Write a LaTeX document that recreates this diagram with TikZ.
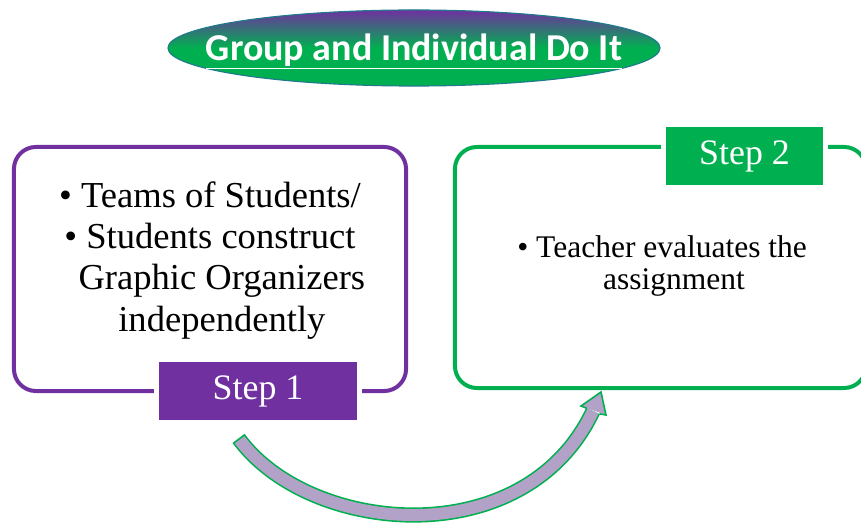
\documentclass[tikz,border=0pt]{standalone}
\usepackage{fontspec}
\setmainfont{Liberation Serif}
\newfontfamily\titlefont{Carlito}
\usetikzlibrary{shapes.geometric, positioning}
\definecolor{stepone}{RGB}{112,48,160}
\definecolor{steptwo}{RGB}{0,176,80}
\definecolor{titleedge}{RGB}{31,122,140}
\definecolor{arrowfill}{RGB}{179,162,199}
\tikzset{
  frame/.style={rectangle, rounded corners=0.55cm, line width=0.1cm, fill=white},
  steplabel/.style={rectangle, rounded corners=1pt, draw=white, line width=0.12cm,
                    text=white, minimum height=1.57cm, font=\fontsize{25.5}{28}\selectfont},
  bodytext/.style={align=center, inner sep=0pt},
  heading/.style={ellipse, draw=titleedge, thick, top color=stepone, bottom color=steptwo,
                  middle color=steptwo, minimum width=12.3cm, minimum height=1.9cm, inner sep=0pt},
  headtext/.style={text=white, inner sep=0pt, anchor=base, font=\titlefont\bfseries\fontsize{27}{30}\selectfont},
  arrowband/.style={draw=steptwo, line width=0.04cm, double=arrowfill, double distance=0.3cm},
}

\begin{document}
\begin{tikzpicture}[x=0.025cm, y=-0.025cm]
  \useasboundingbox (0,0) rectangle (861,524);
  \clip (0,0) rectangle (861,524);

  \node[heading] (title) at (414,48) {};
  \node[headtext] (titletext) at ([yshift=-0.3cm]title.center) {\underline{Group and Individual Do It}};

  \node[frame, draw=stepone, minimum width=9.8cm, minimum height=6.1cm] (box1) at (210,269) {};
  \node[frame, draw=steptwo, minimum width=10.275cm, minimum height=6.025cm] (box2) at (660.5,267.5) {};

  \node[bodytext, font=\fontsize{26}{29.5}\selectfont, below=0.9cm of box1.north] (text1)
    {\textbullet{} Teams of Students/\\ \textbullet{} Students construct\\
     \hspace*{0.65em}Graphic Organizers\\ \hspace*{0.65em}independently};
  \node[bodytext, font=\fontsize{22.4}{23}\selectfont, below=2.25cm of box2.north, xshift=0.04cm] (text2)
    {\textbullet{} Teacher evaluates the\\ \hspace*{0.76em}assignment};

  \node[steplabel, fill=stepone, minimum width=5.07cm] (label1) at (258,391) {Step 1};
  \node[steplabel, fill=steptwo, minimum width=4.05cm] (label2) at (744.5,156) {Step 2};

  \coordinate (tail) at (239,439);
  \coordinate (tip) at (593,411);
  \draw[arrowband] (tail) .. controls (310,535) and (525,555) .. (tip);
  \draw[steptwo, line width=0.04cm] (233,443.5) -- (245,434.5);
  \fill[arrowfill] (581,406) -- (601,392) -- (606,415) -- cycle;
  \draw[steptwo, line width=0.04cm, line join=miter] (586.6,408.2) -- (581,406) -- (601,392) -- (606,415) -- (599.4,413.8);
\end{tikzpicture}
\end{document}
